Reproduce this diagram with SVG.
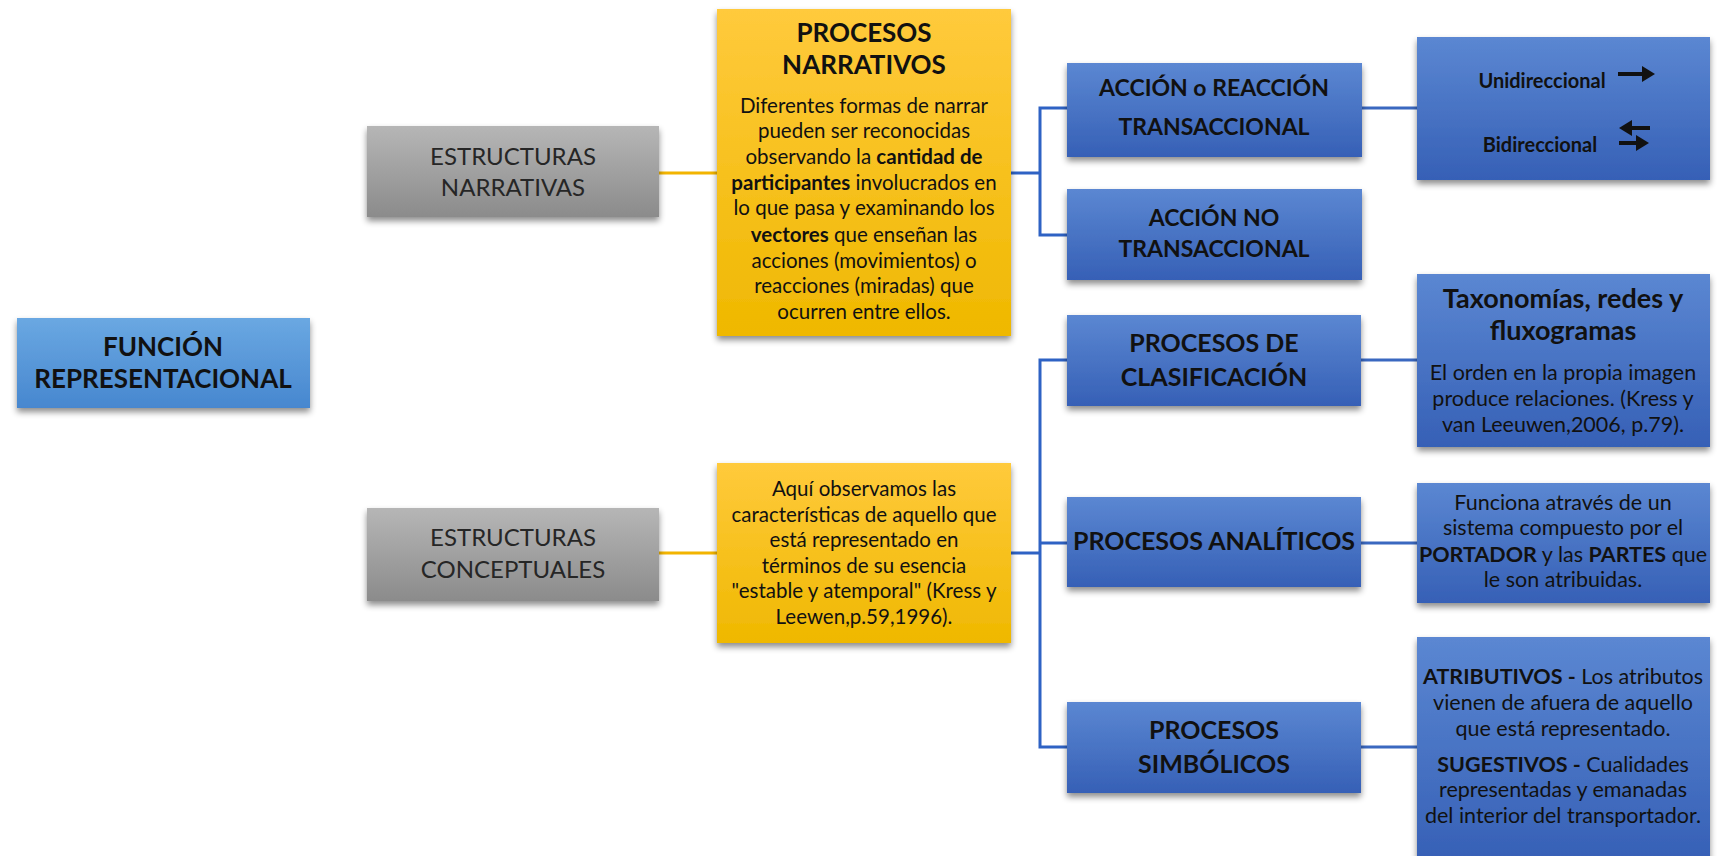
<svg xmlns="http://www.w3.org/2000/svg" width="1722" height="856" viewBox="0 0 1722 856">
<style>
text{font-family:Lato,"Liberation Sans",sans-serif;fill:#111;text-anchor:middle}
.b{font-weight:bold}
.hd{font-size:26px;font-weight:bold}
.gt{font-size:24px;fill:#262626}
.bd{font-size:20.5px}
.br{font-size:21.5px}
.bx{font-size:23px;font-weight:bold}
.px{font-size:25px;font-weight:bold}
.cn{fill:none;stroke-width:3}
</style>
<defs>
<linearGradient id="gBlue" x1="0" y1="0" x2="0" y2="1"><stop offset="0" stop-color="#5b87d2"/><stop offset="1" stop-color="#3660b6"/></linearGradient>
<linearGradient id="gSky" x1="0" y1="0" x2="0" y2="1"><stop offset="0" stop-color="#6aa8e2"/><stop offset="1" stop-color="#4787cf"/></linearGradient>
<linearGradient id="gGray" x1="0" y1="0" x2="0" y2="1"><stop offset="0" stop-color="#b6b6b6"/><stop offset="1" stop-color="#8b8b8b"/></linearGradient>
<linearGradient id="gYel" x1="0" y1="0" x2="0" y2="1"><stop offset="0" stop-color="#ffca3c"/><stop offset="1" stop-color="#efb800"/></linearGradient>
<filter id="sh" x="-10%" y="-10%" width="120%" height="130%"><feDropShadow dx="0" dy="4" stdDeviation="3" flood-color="#000" flood-opacity="0.45"/></filter>
</defs>
<rect width="1722" height="856" fill="#fff"/>
<g id="connectors">
<line x1="659" y1="173" x2="717" y2="173" stroke="#f2b400" stroke-width="3"/>
<line x1="659" y1="553" x2="717" y2="553" stroke="#f2b400" stroke-width="3"/>
<path class="cn" stroke="#2e62c4" d="M1011 173 H1040 M1067 108 H1040 V235 H1067"/>
<line class="cn" stroke="#3a68c0" x1="1362" y1="108" x2="1417" y2="108"/>
<path class="cn" stroke="#2e62c4" d="M1011 553 H1040 M1067 360 H1040 V747 H1067 M1040 543 H1067"/>
<line class="cn" stroke="#3a68c0" x1="1361" y1="360" x2="1417" y2="360"/>
<line class="cn" stroke="#3a68c0" x1="1361" y1="543" x2="1417" y2="543"/>
<line class="cn" stroke="#3a68c0" x1="1361" y1="747" x2="1417" y2="747"/>
</g>
<g id="funcion">
<rect x="17" y="318" width="293" height="90" fill="url(#gSky)" filter="url(#sh)"/>
<text class="hd" x="163" y="356">FUNCIÓN</text>
<text class="hd" x="163" y="388">REPRESENTACIONAL</text>
</g>
<g id="estructuras-narrativas">
<rect x="367" y="126" width="292" height="91" fill="url(#gGray)" filter="url(#sh)"/>
<text class="gt" x="513" y="165">ESTRUCTURAS</text>
<text class="gt" x="513" y="196">NARRATIVAS</text>
</g>
<g id="estructuras-conceptuales">
<rect x="367" y="508" width="292" height="93" fill="url(#gGray)" filter="url(#sh)"/>
<text class="gt" x="513" y="546">ESTRUCTURAS</text>
<text class="gt" x="513" y="578">CONCEPTUALES</text>
</g>
<g id="procesos-narrativos">
<rect x="717" y="9" width="294" height="327" fill="url(#gYel)" filter="url(#sh)"/>
<text class="hd" x="864" y="42">PROCESOS</text>
<text class="hd" x="864" y="74">NARRATIVOS</text>
<text class="bd" x="864" y="113">Diferentes formas de narrar</text>
<text class="bd" x="864" y="138">pueden ser reconocidas</text>
<text class="bd" x="864" y="164">observando la <tspan class="b">cantidad de</tspan></text>
<text class="bd" x="864" y="190"><tspan class="b">participantes</tspan> involucrados en</text>
<text class="bd" x="864" y="215">lo que pasa y examinando los</text>
<text class="bd" x="864" y="242"><tspan class="b">vectores</tspan> que enseñan las</text>
<text class="bd" x="864" y="268">acciones (movimientos) o</text>
<text class="bd" x="864" y="293">reacciones (miradas) que</text>
<text class="bd" x="864" y="319">ocurren entre ellos.</text>
</g>
<g id="conceptual-desc">
<rect x="717" y="463" width="294" height="180" fill="url(#gYel)" filter="url(#sh)"/>
<text class="bd" x="864" y="496">Aquí observamos las</text>
<text class="bd" x="864" y="522">características de aquello que</text>
<text class="bd" x="864" y="547">está representado en</text>
<text class="bd" x="864" y="573">términos de su esencia</text>
<text class="bd" x="864" y="598">"estable y atemporal" (Kress y</text>
<text class="bd" x="864" y="624">Leewen,p.59,1996).</text>
</g>
<g id="accion-reaccion">
<rect x="1067" y="63" width="295" height="94" fill="url(#gBlue)" filter="url(#sh)"/>
<text class="bx" x="1214" y="96">ACCIÓN o REACCIÓN</text>
<text class="bx" x="1214" y="135">TRANSACCIONAL</text>
</g>
<g id="accion-no">
<rect x="1067" y="189" width="295" height="91" fill="url(#gBlue)" filter="url(#sh)"/>
<text class="bx" x="1214" y="226">ACCIÓN NO</text>
<text class="bx" x="1214" y="257">TRANSACCIONAL</text>
</g>
<g id="direccional">
<rect x="1417" y="37" width="293" height="143" fill="url(#gBlue)" filter="url(#sh)"/>
<text class="b" x="1542" y="88" style="font-size:20px">Unidireccional</text>
<text class="b" x="1540" y="152" style="font-size:20px">Bidireccional</text>
<g fill="#111" stroke="#111">
<path d="M1618 74 H1644" stroke-width="4"/>
<path d="M1642 66 L1655 74 L1642 82 Z" stroke="none"/>
<path d="M1630 128 H1650" stroke-width="4"/>
<path d="M1632 120 L1619 128 L1632 136 Z" stroke="none"/>
<path d="M1619 143 H1638" stroke-width="4"/>
<path d="M1636 135 L1649 143 L1636 151 Z" stroke="none"/>
</g>
</g>
<g id="clasificacion">
<rect x="1067" y="315" width="294" height="91" fill="url(#gBlue)" filter="url(#sh)"/>
<text class="px" x="1214" y="352">PROCESOS DE</text>
<text class="px" x="1214" y="386">CLASIFICACIÓN</text>
</g>
<g id="taxonomias">
<rect x="1417" y="274" width="293" height="173" fill="url(#gBlue)" filter="url(#sh)"/>
<text class="b" x="1563" y="308" style="font-size:27px">Taxonomías, redes y</text>
<text class="b" x="1563" y="340" style="font-size:27px">fluxogramas</text>
<text class="br" x="1563" y="380">El orden en la propia imagen</text>
<text class="br" x="1563" y="406">produce relaciones. (Kress y</text>
<text class="br" x="1563" y="432">van Leeuwen,2006, p.79).</text>
</g>
<g id="analiticos">
<rect x="1067" y="497" width="294" height="90" fill="url(#gBlue)" filter="url(#sh)"/>
<text class="px" x="1214" y="550">PROCESOS ANALÍTICOS</text>
</g>
<g id="funciona">
<rect x="1417" y="483" width="293" height="120" fill="url(#gBlue)" filter="url(#sh)"/>
<text class="br" x="1563" y="510">Funciona através de un</text>
<text class="br" x="1563" y="535">sistema compuesto por el</text>
<text class="br" x="1563" y="562"><tspan class="b">PORTADOR</tspan> y las <tspan class="b">PARTES</tspan> que</text>
<text class="br" x="1563" y="587">le son atribuidas.</text>
</g>
<g id="simbolicos">
<rect x="1067" y="702" width="294" height="91" fill="url(#gBlue)" filter="url(#sh)"/>
<text class="px" x="1214" y="739">PROCESOS</text>
<text class="px" x="1214" y="773">SIMBÓLICOS</text>
</g>
<g id="atributivos">
<rect x="1417" y="637" width="293" height="225" fill="url(#gBlue)" filter="url(#sh)"/>
<text class="br" x="1563" y="684" style="font-size:21.5px"><tspan class="b">ATRIBUTIVOS -</tspan> Los atributos</text>
<text class="br" x="1563" y="710" style="font-size:21.5px">vienen de afuera de aquello</text>
<text class="br" x="1563" y="736" style="font-size:21.5px">que está representado.</text>
<text class="br" x="1563" y="772" style="font-size:21.5px"><tspan class="b">SUGESTIVOS -</tspan> Cualidades</text>
<text class="br" x="1563" y="797" style="font-size:21.5px">representadas y emanadas</text>
<text class="br" x="1563" y="823" style="font-size:21.5px">del interior del transportador.</text>
</g>
</svg>
